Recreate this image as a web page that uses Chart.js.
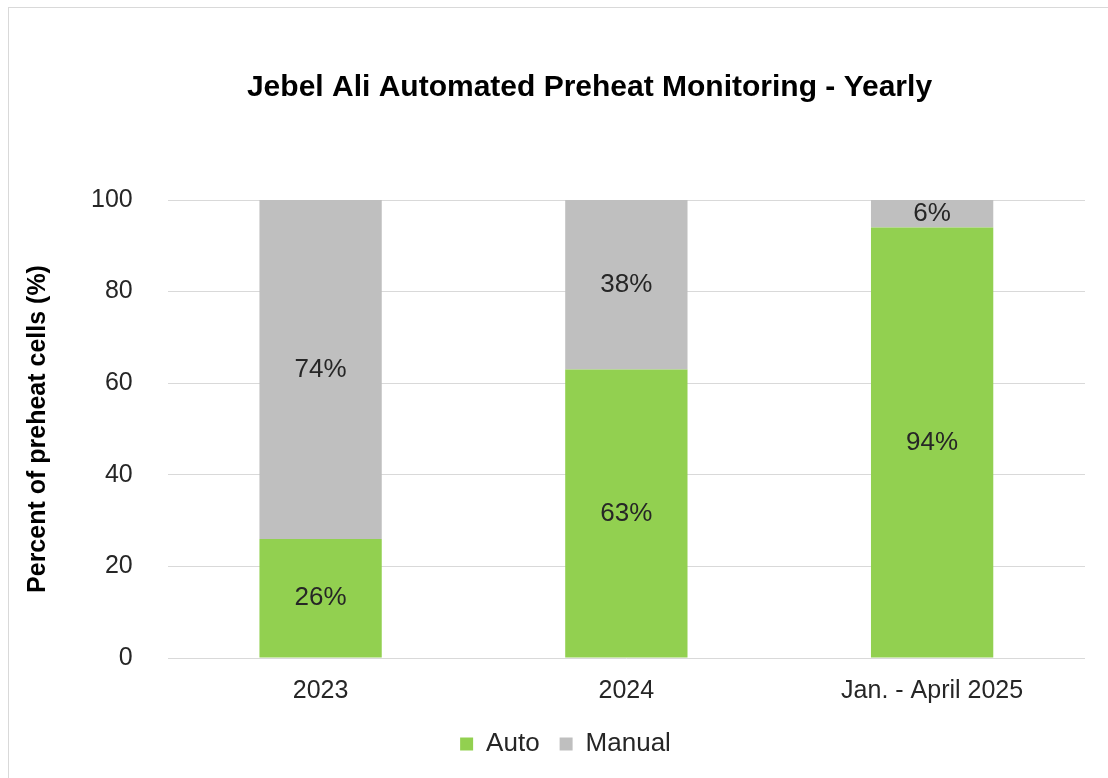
<!DOCTYPE html>
<html>
<head>
<meta charset="utf-8">
<script src="https://cdn.jsdelivr.net/npm/chart.js@4.4.1/dist/chart.umd.min.js"></script>
<style>
  html, body { margin: 0; padding: 0; background: #fff; overflow: hidden; }
</style>
</head>
<body>
<canvas id="myChart" width="1108" height="778"></canvas>
<script>
const categories = ['2023', '2024', 'Jan. - April 2025'];
const autoValues = [26, 63, 94];
const manualValues = [74, 38, 6];
const yTicks = [0, 20, 40, 60, 80, 100];

const FONT = '"Liberation Sans", Arial, sans-serif';

// white background + thin outer frame like the office chart box
const frame = {
  id: 'frame',
  beforeDraw(chart) {
    const c = chart.ctx;
    c.save();
    c.fillStyle = '#fff';
    c.fillRect(0, 0, chart.width, chart.height);
    c.strokeStyle = '#d9d9d9';
    c.lineWidth = 1;
    c.strokeRect(8.5, 7.5, chart.width + 20, chart.height + 20);
    c.restore();
  }
};

// title and legend sit a bit right of the plot centre in the original
const nudge = {
  id: 'nudge',
  afterLayout(chart) {
    if (chart.titleBlock) { chart.titleBlock.left += 46; chart.titleBlock.right += 46; }
    if (chart.legend) { chart.legend.left += 22; chart.legend.right += 22; }
  }
};

// percent labels in the middle of each segment
const segLabels = {
  id: 'segLabels',
  afterDatasetsDraw(chart) {
    const c = chart.ctx;
    c.save();
    c.font = '26px ' + FONT;
    c.fillStyle = '#262626';
    c.textAlign = 'center';
    c.textBaseline = 'middle';
    chart.data.datasets.forEach((ds, i) => {
      chart.getDatasetMeta(i).data.forEach((bar, j) => {
        const top = Math.max(bar.y, chart.chartArea.top);
        c.fillText(ds.data[j] + '%', bar.x, (top + bar.base) / 2);
      });
    });
    c.restore();
  }
};

new Chart(document.getElementById('myChart'), {
  type: 'bar',
  data: {
    labels: categories,
    datasets: [
      { label: 'Auto', data: autoValues, backgroundColor: '#92d050', barPercentage: 0.4, categoryPercentage: 1 },
      { label: 'Manual', data: manualValues, backgroundColor: '#bfbfbf', barPercentage: 0.4, categoryPercentage: 1 }
    ]
  },
  options: {
    responsive: false,
    animation: false,
    layout: { padding: { left: 2, right: 23, top: 0, bottom: 11 } },
    scales: {
      x: {
        stacked: true,
        grid: { display: false },
        border: { display: false },
        ticks: { color: '#262626', font: { family: FONT, size: 25 }, padding: 10 },
        afterFit(axis) { axis.height -= 5; }
      },
      y: {
        stacked: true,
        min: 0,
        max: 100,
        afterBuildTicks(axis) { axis.ticks = yTicks.map(v => ({ value: v })); },
        grid: { color: '#d9d9d9', lineWidth: 1, drawTicks: false },
        border: { display: false },
        ticks: { color: '#262626', font: { family: FONT, size: 25 }, padding: 35 },
        title: {
          display: true,
          text: 'Percent of preheat cells (%)',
          color: '#000',
          font: { family: FONT, size: 25, weight: 'bold' },
          padding: { top: 21, bottom: 3 }
        }
      }
    },
    plugins: {
      title: {
        display: true,
        text: 'Jebel Ali Automated Preheat Monitoring - Yearly',
        color: '#000',
        font: { family: FONT, size: 30, weight: 'bold' },
        padding: { top: 70, bottom: 94 }
      },
      legend: {
        position: 'bottom',
        labels: {
          color: '#262626',
          font: { family: FONT, size: 26 },
          boxWidth: 13,
          boxHeight: 13,
          padding: 20
        }
      },
      tooltip: { enabled: false }
    }
  },
  plugins: [frame, nudge, segLabels]
});
</script>
</body>
</html>
